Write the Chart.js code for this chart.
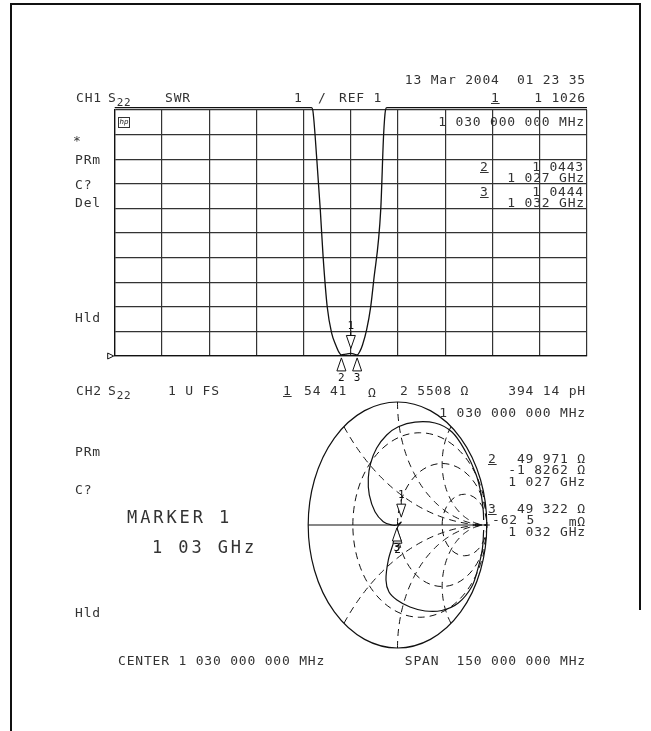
<!DOCTYPE html>
<html>
<head>
<meta charset="utf-8">
<script src="https://cdn.jsdelivr.net/npm/chart.js@4.4.1/dist/chart.umd.min.js"></script>
<style>
html, body { margin: 0; padding: 0; background: #fff; }
#page { position: relative; width: 651px; height: 731px; overflow: hidden; }
canvas { position: absolute; left: 0; top: 0; }
.t { position: absolute; font-family: "DejaVu Sans Mono", monospace; font-size: 13px; line-height: 14px;
     letter-spacing: 0.8px; color: #333; white-space: pre; }
.sub { font-size: 11px; position: relative; top: 4px; }
.u { text-decoration: underline; }
.big { font-size: 17px; line-height: 18px; letter-spacing: 2.9px; }
.frame { position: absolute; background: #111; }
.hp { position: absolute; left: 118px; top: 117px; width: 10px; height: 9px; border: 1px solid #333;
      font: italic 7px "DejaVu Sans", sans-serif; line-height: 9px; text-align: center; color: #222; }
</style>
</head>
<body>
<div id="page">
  <canvas id="swrChart" width="651" height="731"></canvas>
  <canvas id="smithChart" width="651" height="731"></canvas>

  <div class="frame" style="left:10px;top:3px;width:2px;height:728px"></div>
  <div class="frame" style="left:10px;top:3px;width:631px;height:2px"></div>
  <div class="frame" style="left:639px;top:3px;width:2px;height:607px"></div>

  <!-- channel 1 annotations -->
  <div class="t" style="right:65px;top:73px">13 Mar 2004  01 23 35</div>
  <div class="t" style="left:76px;top:91px">CH1</div>
  <div class="t" style="left:108px;top:91px">S<span class="sub">22</span></div>
  <div class="t" style="left:165px;top:91px">SWR</div>
  <div class="t" style="left:294px;top:91px">1</div>
  <div class="t" style="left:318px;top:91px">/</div>
  <div class="t" style="left:339px;top:91px">REF 1</div>
  <div class="t u" style="left:491px;top:91px">1</div>
  <div class="t" style="right:65px;top:91px">1 1026</div>
  <div class="hp">hp</div>
  <div class="t" style="right:66px;top:115px">1 030 000 000 MHz</div>
  <div class="t" style="left:73px;top:134px">*</div>
  <div class="t" style="left:75px;top:153px">PRm</div>
  <div class="t" style="left:75px;top:178px">C?</div>
  <div class="t" style="left:75px;top:196px">Del</div>
  <div class="t" style="left:75px;top:311px">Hld</div>
  <div class="t u" style="left:480px;top:160px">2</div>
  <div class="t" style="right:67px;top:160px">1 0443</div>
  <div class="t" style="right:66px;top:171px">1 027 GHz</div>
  <div class="t u" style="left:480px;top:185px">3</div>
  <div class="t" style="right:67px;top:185px">1 0444</div>
  <div class="t" style="right:66px;top:196px">1 032 GHz</div>

  <!-- channel 2 annotations -->
  <div class="t" style="left:76px;top:384px">CH2</div>
  <div class="t" style="left:108px;top:384px">S<span class="sub">22</span></div>
  <div class="t" style="left:168px;top:384px">1 U FS</div>
  <div class="t u" style="left:283px;top:384px">1</div>
  <div class="t" style="left:304px;top:384px">54 41</div>
  <div class="t" style="left:368px;top:386px">Ω</div>
  <div class="t" style="left:400px;top:384px">2 5508 Ω</div>
  <div class="t" style="right:65px;top:384px">394 14 pH</div>
  <div class="t" style="right:65px;top:406px">1 030 000 000 MHz</div>
  <div class="t" style="left:75px;top:445px">PRm</div>
  <div class="t" style="left:75px;top:483px">C?</div>
  <div class="t big" style="left:127px;top:508px">MARKER 1</div>
  <div class="t big" style="left:152px;top:538px">1 03 GHz</div>
  <div class="t" style="left:75px;top:606px">Hld</div>
  <div class="t u" style="left:488px;top:452px">2</div>
  <div class="t" style="right:65px;top:452px">49 971 Ω</div>
  <div class="t" style="right:65px;top:463px">-1 8262 Ω</div>
  <div class="t" style="right:65px;top:475px">1 027 GHz</div>
  <div class="t u" style="left:488px;top:502px">3</div>
  <div class="t" style="right:65px;top:502px">49 322 Ω</div>
  <div class="t" style="left:492px;top:513px">-62 5</div>
  <div class="t" style="right:65px;top:515px">mΩ</div>
  <div class="t" style="right:65px;top:525px">1 032 GHz</div>
  <div class="t" style="left:118px;top:654px">CENTER 1 030 000 000 MHz</div>
  <div class="t" style="right:65px;top:654px">SPAN  150 000 000 MHz</div>
</div>

<script>
// CH1: SWR vs frequency (MHz)
const swrFreq = [955, 1017.5, 1017.9, 1019.2, 1020.3, 1021.2, 1022.5, 1023.9, 1025.2, 1026.2, 1027.0, 1028.4,
    1030.0, 1031.1, 1032.0, 1032.9, 1033.7, 1035.0, 1036.3, 1037.2, 1039.5, 1040.4, 1041.0, 1041.4, 1105];
const swrValue = [11.1, 11.1, 11.0, 8.97, 6.93, 5.02, 2.99, 1.93, 1.45, 1.16, 1.044, 1.075,
    1.103, 1.075, 1.044, 1.2, 1.45, 2.06, 3.0, 4.0, 6.97, 9.98, 11.0, 11.1, 11.1];

// markers 1, 2, 3
const markerLabels = ['1', '2', '3'];
const markerFreq = [1030, 1027, 1032];
const markerSwr = [1.1026, 1.0443, 1.0444];

// CH2: reflection coefficient (real, imag) along the sweep
const smithRe = [0.965, 0.95, 0.90, 0.831, 0.681, 0.495, 0.308, 0.140, -0.006, -0.095, -0.129, -0.103, -0.047,
    -0.006, 0.000, 0.042, -0.007, -0.065, -0.159, -0.252, -0.316, -0.327, -0.300, -0.233, -0.121, 0.009,
    0.196, 0.42, 0.61, 0.76, 0.88, 0.935, 0.96, 0.965];
const smithIm = [-0.04, -0.196, -0.356, -0.502, -0.634, -0.695, -0.699, -0.667, -0.610, -0.545, -0.447, -0.285,
    -0.149, -0.057, -0.018, 0.023, 0.000, 0.000, 0.027, 0.108, 0.244, 0.382, 0.504, 0.626, 0.732, 0.799,
    0.837, 0.829, 0.756, 0.60, 0.41, 0.256, 0.117, 0.04];
const smithMarkerRe = [0.042, -0.0003, -0.007];
const smithMarkerIm = [0.023, -0.018, 0.0];

// graticule
const resistanceCircles = [1 / 3, 1, 3];
const reactanceArcs = [0.5, 1, 2, -0.5, -1, -2];

const INK = '#111';

function drawTriangle(ctx, x, tipY, dir, h, w) {
    // dir = 1: tip at top (pointing up), dir = -1: tip at bottom
    ctx.beginPath();
    ctx.moveTo(x, tipY);
    ctx.lineTo(x - w / 2, tipY + dir * h);
    ctx.lineTo(x + w / 2, tipY + dir * h);
    ctx.closePath();
    ctx.fillStyle = '#fff';
    ctx.fill();
    ctx.stroke();
}

function drawMarkerSet(ctx, pts) {
    ctx.save();
    ctx.strokeStyle = INK;
    ctx.lineWidth = 1;
    ctx.font = '11px "DejaVu Sans Mono", monospace';
    ctx.textAlign = 'center';
    ctx.textBaseline = 'middle';
    pts.forEach((p, i) => {
        if (i === 0) {
            drawTriangle(ctx, p.x, p.y - 5, -1, 13, 9);
            ctx.beginPath();
            ctx.moveTo(p.x, p.y - 18);
            ctx.lineTo(p.x, p.y - 23);
            ctx.stroke();
            ctx.fillStyle = INK;
            ctx.fillText(markerLabels[i], p.x, p.y - 27);
        } else {
            drawTriangle(ctx, p.x, p.y + 3, 1, 13, 9);
            ctx.fillStyle = INK;
            ctx.fillText(markerLabels[i], p.x, p.y + 23);
        }
    });
    ctx.restore();
}

const swrMarkers = {
    id: 'swrMarkers',
    afterDatasetsDraw(chart) {
        const { ctx, scales: { x, y }, chartArea } = chart;
        const pts = markerFreq.map((f, i) => ({ x: x.getPixelForValue(f), y: y.getPixelForValue(markerSwr[i]) }));
        drawMarkerSet(ctx, pts);

        // reference position arrow at the left edge
        const refY = y.getPixelForValue(1);
        ctx.save();
        ctx.strokeStyle = INK;
        ctx.lineWidth = 1;
        ctx.beginPath();
        ctx.moveTo(chartArea.left - 1, refY);
        ctx.lineTo(chartArea.left - 7, refY - 3);
        ctx.lineTo(chartArea.left - 7, refY + 3);
        ctx.closePath();
        ctx.stroke();
        ctx.restore();
    }
};

const smithGrid = {
    id: 'smithGrid',
    beforeDatasetsDraw(chart) {
        const { ctx, scales: { x, y } } = chart;
        const cx = x.getPixelForValue(0);
        const cy = y.getPixelForValue(0);
        const sx = x.getPixelForValue(1) - cx;
        const sy = cy - y.getPixelForValue(1);

        ctx.save();
        ctx.strokeStyle = INK;
        ctx.lineWidth = 1.2;
        ctx.beginPath();
        ctx.ellipse(cx, cy, sx, sy, 0, 0, Math.PI * 2);
        ctx.stroke();
        ctx.beginPath();
        ctx.moveTo(cx - sx, cy);
        ctx.lineTo(cx + sx + 3, cy);
        ctx.moveTo(cx + sx, cy - 3);
        ctx.lineTo(cx + sx, cy + 3);
        ctx.stroke();

        ctx.beginPath();
        ctx.ellipse(cx, cy, sx, sy, 0, 0, Math.PI * 2);
        ctx.clip();
        ctx.lineWidth = 1;
        ctx.setLineDash([7, 5]);

        resistanceCircles.forEach((r) => {
            const c = r / (1 + r);
            const rad = 1 / (1 + r);
            ctx.beginPath();
            ctx.ellipse(cx + c * sx, cy, rad * sx, rad * sy, 0, Math.PI, 3 * Math.PI);
            ctx.stroke();
        });

        reactanceArcs.forEach((xv) => {
            const k = Math.abs(xv);
            const sign = Math.sign(xv);
            const rad = 1 / k;
            const g0x = (k * k - 1) / (k * k + 1);
            const g0y = 2 * k / (k * k + 1);
            let a0 = Math.atan2(g0y - rad, g0x - 1);
            if (a0 < 0) a0 += Math.PI * 2;
            const a1 = Math.PI * 1.5;
            ctx.beginPath();
            for (let s = 0; s <= 80; s++) {
                const a = a0 + (a1 - a0) * s / 80;
                const gx = 1 + rad * Math.cos(a);
                const gy = sign * (rad + rad * Math.sin(a));
                const px = cx + gx * sx;
                const py = cy - gy * sy;
                if (s === 0) ctx.moveTo(px, py); else ctx.lineTo(px, py);
            }
            ctx.stroke();
        });
        ctx.restore();
    },
    afterDatasetsDraw(chart) {
        const { ctx, scales: { x, y } } = chart;
        const pts = smithMarkerRe.map((re, i) => ({ x: x.getPixelForValue(re), y: y.getPixelForValue(smithMarkerIm[i]) }));
        drawMarkerSet(ctx, pts);
    }
};

new Chart(document.getElementById('swrChart').getContext('2d'), {
    type: 'line',
    data: {
        datasets: [{
            label: 'SWR',
            data: swrFreq.map((f, i) => ({ x: f, y: swrValue[i] })),
            borderColor: INK,
            borderWidth: 1.3,
            pointRadius: 0,
            fill: false,
            cubicInterpolationMode: 'monotone',
            clip: false
        }]
    },
    options: {
        responsive: false,
        animation: false,
        layout: { padding: { left: 114.7, top: 110, right: 64, bottom: 375 } },
        scales: {
            x: {
                type: 'linear',
                min: 955,
                max: 1105,
                ticks: { stepSize: 15, display: false },
                grid: { color: '#333', lineWidth: 1.2, drawTicks: false },
                border: { color: INK, width: 1.3 }
            },
            y: {
                min: 1,
                max: 11,
                ticks: { stepSize: 1, display: false },
                grid: { color: '#333', lineWidth: 1.2, drawTicks: false },
                border: { color: INK, width: 1.3 }
            }
        },
        plugins: {
            legend: { display: false },
            tooltip: { enabled: false }
        }
    },
    plugins: [swrMarkers]
});

new Chart(document.getElementById('smithChart').getContext('2d'), {
    type: 'scatter',
    data: {
        datasets: [{
            label: 'S22',
            data: smithRe.map((re, i) => ({ x: re, y: smithIm[i] })),
            showLine: true,
            borderColor: INK,
            borderWidth: 1.2,
            pointRadius: 0,
            tension: 0.35,
            clip: false
        }]
    },
    options: {
        responsive: false,
        animation: false,
        layout: { padding: { left: 308.2, top: 402, right: 164.2, bottom: 83 } },
        scales: {
            x: { min: -1, max: 1, display: false },
            y: { min: -1, max: 1, display: false }
        },
        plugins: {
            legend: { display: false },
            tooltip: { enabled: false }
        }
    },
    plugins: [smithGrid]
});
</script>
</body>
</html>
